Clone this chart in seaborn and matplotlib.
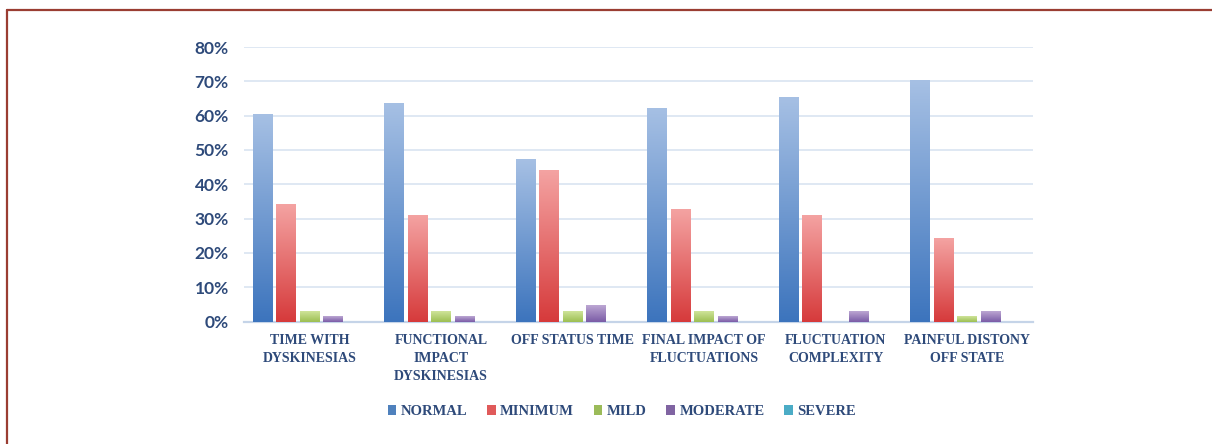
import numpy as np
import pandas as pd
import matplotlib
matplotlib.use("Agg")
import matplotlib.pyplot as plt
from matplotlib.colors import LinearSegmentedColormap
from matplotlib.lines import Line2D
from matplotlib.patches import Patch
from matplotlib.ticker import PercentFormatter
import seaborn as sns

# ---- data -------------------------------------------------------------
categories = [
    "TIME WITH\nDYSKINESIAS",
    "FUNCTIONAL\nIMPACT\nDYSKINESIAS",
    "OFF STATUS TIME",
    "FINAL IMPACT OF\nFLUCTUATIONS",
    "FLUCTUATION\nCOMPLEXITY",
    "PAINFUL DISTONY\nOFF STATE",
]
levels = ["NORMAL", "MINIMUM", "MILD", "MODERATE", "SEVERE"]
normal = [60.6, 63.8, 47.3, 62.2, 65.4, 70.3]
minimum = [34.2, 31.0, 44.2, 32.7, 31.0, 24.3]
mild = [3.2, 3.2, 3.2, 3.2, 0.0, 1.6]
moderate = [1.6, 1.6, 4.8, 1.6, 3.2, 3.2]
severe = [0.0, 0.0, 0.0, 0.0, 0.0, 0.0]
yticks = [0, 10, 20, 30, 40, 50, 60, 70, 80]

series = dict(zip(levels, [normal, minimum, mild, moderate, severe]))
df = pd.DataFrame(
    [(c, lvl, v) for lvl, vals in series.items() for c, v in zip(categories, vals)],
    columns=["category", "level", "value"],
)

# ---- styling ----------------------------------------------------------
base_colors = ["#4f81bd", "#e05a5a", "#9bbb59", "#8064a2", "#4bacc6"]
top_colors = ["#a6c0e4", "#f4a3a2", "#cfe49a", "#bca7d3", "#8fd6ea"]
bot_colors = ["#3c74bd", "#d63a3b", "#9cbf52", "#7a5ba6", "#35a9cf"]
text_color = "#2e4a7a"
grid_color = "#dce6f2"

sns.set_theme(style="white")
plt.rcParams["font.family"] = ["Lato", "DejaVu Sans"]

fig = plt.figure(figsize=(12.12, 4.44), dpi=100)
ax = fig.add_axes([0.2013, 0.2759, 0.651, 0.6182])

sns.barplot(
    data=df, x="category", y="value", hue="level",
    order=categories, hue_order=levels, palette=base_colors,
    width=0.894, gap=0.17, legend=False, errorbar=None, ax=ax,
    linewidth=0, zorder=3,
)

# vertical gradient fill for each bar
grad = np.linspace(0, 1, 256).reshape(-1, 1)
for container, c_top, c_bot in zip(ax.containers, top_colors, bot_colors):
    cmap = LinearSegmentedColormap.from_list("g", [c_bot, c_top])
    for bar in container:
        h = bar.get_height()
        if h <= 0:
            continue
        x0 = bar.get_x()
        w = bar.get_width()
        ax.imshow(grad, cmap=cmap, origin="lower", aspect="auto",
                  extent=[x0, x0 + w, 0, h], zorder=4, interpolation="bilinear")

ax.set_xlim(-0.5, len(categories) - 0.5)
ax.set_ylim(0, 80)
ax.set_yticks(yticks)
ax.yaxis.set_major_formatter(PercentFormatter(decimals=0))
ax.grid(axis="y", color=grid_color, linewidth=1.3, zorder=0)
ax.grid(axis="x", visible=False)
ax.set_axisbelow(True)
for side in ["left", "right", "top"]:
    ax.spines[side].set_visible(False)
ax.spines["bottom"].set_color("#c5d4e8")
ax.spines["bottom"].set_linewidth(1.6)
ax.set_xlabel("")
ax.set_ylabel("")
ax.tick_params(axis="both", length=0)
ax.tick_params(axis="y", pad=11)
ax.tick_params(axis="x", pad=9)
for lab in ax.get_yticklabels():
    lab.set_fontsize(12.5)
    lab.set_fontweight("bold")
    lab.set_color(text_color)
    lab.set_family(["Lato", "DejaVu Sans"])
for lab in ax.get_xticklabels():
    lab.set_fontsize(10)
    lab.set_fontweight("bold")
    lab.set_color(text_color)
    lab.set_family(["Liberation Serif", "DejaVu Serif"])
    lab.set_linespacing(1.5)
ax.set_facecolor("white")

handles = [Patch(facecolor=c, edgecolor="none") for c in base_colors]
fig.legend(
    handles, levels, loc="center", bbox_to_anchor=(0.513, 0.073), ncol=5,
    frameon=False, handlelength=0.6, handleheight=0.6, handletextpad=0.3,
    columnspacing=1.35,
    prop={"family": ["Liberation Serif", "DejaVu Serif"], "weight": "bold", "size": 10.5},
    labelcolor=text_color,
)

# outer frame (top and left edges)
frame_color = "#9a3d32"
fig.add_artist(Line2D([7 / 1212, 1.0], [1 - 10 / 444, 1 - 10 / 444],
                      transform=fig.transFigure, color=frame_color, linewidth=1.6))
fig.add_artist(Line2D([7 / 1212, 7 / 1212], [0.0, 1 - 10 / 444],
                      transform=fig.transFigure, color=frame_color, linewidth=1.6))

fig.savefig("out.png", dpi=100, facecolor="white")
